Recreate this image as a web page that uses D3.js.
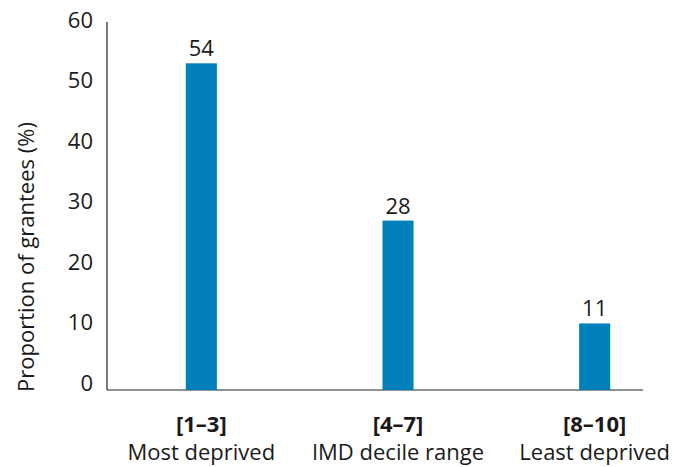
<!DOCTYPE html>
<html>
<head>
<meta charset="utf-8">
<script src="https://cdn.jsdelivr.net/npm/d3@7"></script>
<style>
  html, body { margin: 0; padding: 0; background: #fff; }
  svg { display: block; font-family: "Open Sans", sans-serif; }
</style>
</head>
<body>
<svg id="chart" width="674" height="467"></svg>
<script>
// IMD decile groups and share of grantees in each
const ranges = ["[1–3]", "[4–7]", "[8–10]"];
const rangeNotes = ["Most deprived", "IMD decile range", "Least deprived"];
const shares = [54, 28, 11];
const yTicks = [0, 10, 20, 30, 40, 50, 60];

const svg = d3.select("#chart");
const barColor = "#0081bb";
const textColor = "#1a1a1a";
const fontSize = 22;

const x = d3.scaleBand()
  .domain(ranges)
  .range([103, 693])
  .paddingInner(0.842)
  .paddingOuter(0.421);

const y = d3.scaleLinear().domain([0, 60]).range([390, 27]);

// y axis: plain vertical line, labels lifted slightly above their ticks
const yAxis = svg.append("g")
  .attr("transform", "translate(107,0)")
  .call(d3.axisLeft(y).tickValues(yTicks).tickSize(0).tickPadding(14));
yAxis.select(".domain").remove();
yAxis.selectAll("text")
  .attr("dy", "0em")
  .attr("font-size", fontSize)
  .attr("font-family", "Open Sans, sans-serif")
  .attr("fill", textColor);

svg.append("line")
  .attr("x1", 107).attr("x2", 107)
  .attr("y1", 22).attr("y2", 390)
  .attr("stroke", "#222").attr("stroke-width", 1.2);

// baseline
svg.append("line")
  .attr("x1", 107).attr("x2", 643)
  .attr("y1", 390).attr("y2", 390)
  .attr("stroke", "#222").attr("stroke-width", 1.2);

// bars
svg.append("g").selectAll("rect")
  .data(shares)
  .join("rect")
  .attr("x", (d, i) => x(ranges[i]))
  .attr("width", x.bandwidth())
  .attr("y", d => y(d))
  .attr("height", d => y(0) - y(d))
  .attr("fill", barColor);

// value labels
svg.append("g").selectAll("text")
  .data(shares)
  .join("text")
  .attr("x", (d, i) => x(ranges[i]) + x.bandwidth() / 2)
  .attr("y", d => y(d) - 7)
  .attr("text-anchor", "middle")
  .attr("font-size", fontSize)
  .attr("fill", textColor)
  .text(d => d);

// category labels: bold decile range, note below
const cat = svg.append("g").selectAll("g")
  .data(ranges)
  .join("g")
  .attr("transform", d => `translate(${x(d) + x.bandwidth() / 2},0)`);
cat.append("text")
  .attr("y", 432)
  .attr("text-anchor", "middle")
  .attr("font-size", fontSize)
  .attr("font-weight", 700)
  .attr("fill", textColor)
  .text(d => d);
cat.append("text")
  .attr("y", 460)
  .attr("text-anchor", "middle")
  .attr("font-size", fontSize)
  .attr("fill", textColor)
  .text((d, i) => rangeNotes[i]);

// y axis title
svg.append("text")
  .attr("transform", "translate(34,257) rotate(-90)")
  .attr("text-anchor", "middle")
  .attr("font-size", fontSize)
  .attr("fill", textColor)
  .text("Proportion of grantees (%)");
</script>
</body>
</html>
